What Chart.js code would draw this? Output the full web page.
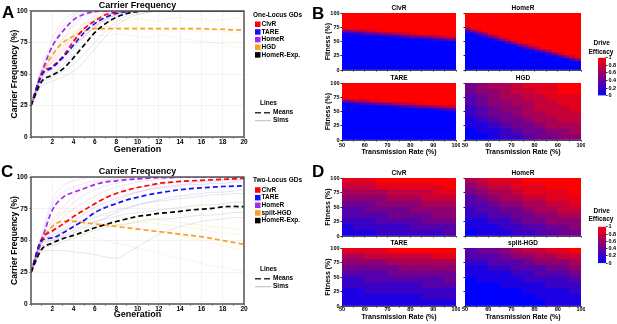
<!DOCTYPE html>
<html>
<head>
<meta charset="utf-8">
<title>Carrier frequency and drive efficacy</title>
<script src="https://cdn.jsdelivr.net/npm/chart.js@4.4.1/dist/chart.umd.min.js"></script>
<style>
  html, body { margin: 0; padding: 0; background: #fff; }
  #fig { position: relative; width: 617px; height: 324px; overflow: hidden; font-family: 'Liberation Sans', Arial, sans-serif; }
  #fig canvas { position: absolute; }
  .tag { position: absolute; font-weight: bold; color: #000; line-height: 1; white-space: nowrap; }
  .panel { font-size: 17px; }
  .cb { font-size: 6.5px; width: 40px; text-align: center; }
</style>
</head>
<body>
<div id="fig">
  <canvas id="chartA" width="310" height="160" style="left:0;top:0"></canvas>
  <canvas id="chartC" width="310" height="164" style="left:0;top:160px"></canvas>
  <canvas id="heatB1" width="140" height="75" style="left:320px;top:0"></canvas>
  <canvas id="heatB2" width="130" height="75" style="left:455px;top:0"></canvas>
  <canvas id="heatB3" width="140" height="90" style="left:320px;top:70px"></canvas>
  <canvas id="heatB4" width="130" height="90" style="left:455px;top:70px"></canvas>
  <canvas id="heatD1" width="140" height="76" style="left:320px;top:165px"></canvas>
  <canvas id="heatD2" width="130" height="76" style="left:455px;top:165px"></canvas>
  <canvas id="heatD3" width="140" height="89" style="left:320px;top:235px"></canvas>
  <canvas id="heatD4" width="130" height="89" style="left:455px;top:235px"></canvas>
  <canvas id="barB" width="27" height="50" style="left:590px;top:50px"></canvas>
  <canvas id="barD" width="27" height="50" style="left:590px;top:219px"></canvas>

  <div class="tag panel" style="left:2px;top:3.8px">A</div>
  <div class="tag panel" style="left:312px;top:4.5px">B</div>
  <div class="tag panel" style="left:1px;top:162.8px">C</div>
  <div class="tag panel" style="left:312px;top:162.8px">D</div>
  <div class="tag cb" style="left:581.7px;top:39.5px">Drive</div>
  <div class="tag cb" style="left:581px;top:48.5px">Efficacy</div>
  <div class="tag cb" style="left:581.7px;top:207.5px">Drive</div>
  <div class="tag cb" style="left:581px;top:216.1px">Efficacy</div>
</div>

<script>
// ---- line charts (A, C): carrier frequency (%) per generation ----
const generations = [0, 1, 2, 3, 4, 5, 6, 7, 8, 9, 10, 11, 12, 13, 14, 15, 16, 17, 18, 19, 20];
const gdOneLocus = ['ClvR', 'TARE', 'HomeR', 'HGD', 'HomeR-Exp.'];
const gdTwoLocus = ['ClvR', 'TARE', 'HomeR', 'split-HGD', 'HomeR-Exp.'];

const meanA_ClvR  = [25, 50, 56, 64, 76, 86, 92, 97, 99, 100, 100, 100, 100, 100, 100, 100, 100, 100, 100, 100, 100];
const meanA_TARE  = [25, 49, 55, 63, 73, 83, 90, 95, 98, 99.5, 100, 100, 100, 100, 100, 100, 100, 100, 100, 100, 100];
const meanA_HomeR = [25, 51, 72, 84, 93, 97.5, 99.5, 100, 100, 100, 100, 100, 100, 100, 100, 100, 100, 100, 100, 100, 100];
const meanA_HGD   = [25, 51, 65, 75, 80, 84, 86, 86, 86, 86, 86, 86, 86, 86, 86, 86, 86, 85.5, 85.5, 85, 85];
const meanA_Exp   = [25, 44, 49, 54, 63, 73, 83, 90, 95, 98, 99.5, 100, 100, 100, 100, 100, 100, 100, 100, 100, 100];

const simsA_ClvR = [
  [25, 52, 62, 72, 82, 90, 96, 99, 100, 100, 100, 100, 100, 100, 100, 100, 100, 100, 100, 100, 100],
  [25, 47, 53, 60, 70, 79, 88, 94, 98, 100, 100, 100, 100, 100, 100, 100, 100, 100, 100, 100, 100],
  [25, 50, 60, 70, 80, 88, 94, 98, 100, 100, 100, 100, 100, 100, 100, 100, 100, 100, 100, 100, 100]
];
const simsA_TARE = [
  [25, 48, 55, 63, 72, 80, 87, 93, 97, 99, 100, 100, 100, 100, 100, 100, 100, 100, 100, 100, 100],
  [25, 51, 59, 68, 78, 86, 93, 97, 99, 100, 100, 100, 100, 100, 100, 100, 100, 100, 100, 100, 100],
  [25, 46, 50, 57, 65, 74, 83, 90, 95, 98, 100, 100, 100, 100, 100, 100, 100, 100, 100, 100, 100]
];
const simsA_HomeR = [
  [25, 55, 78, 92, 98, 100, 100, 100, 100, 100, 100, 100, 100, 100, 100, 100, 100, 100, 100, 100, 100],
  [25, 48, 64, 78, 89, 96, 99, 100, 100, 100, 100, 100, 100, 100, 100, 100, 100, 100, 100, 100, 100],
  [25, 52, 72, 88, 96, 99, 100, 100, 100, 100, 100, 100, 100, 100, 100, 100, 100, 100, 100, 100, 100]
];
const simsA_HGD = [
  [25, 54, 72, 82, 88, 90, 92, 91, 93, 92, 94, 93, 92, 94, 95, 93, 94, 92, 93, 94, 95],
  [25, 50, 64, 73, 78, 80, 81, 80, 82, 81, 80, 79, 81, 80, 78, 77, 76, 75, 74, 72, 70],
  [25, 52, 68, 78, 84, 86, 87, 88, 86, 87, 88, 86, 85, 84, 86, 85, 84, 86, 84, 83, 82]
];
const simsA_Exp = [
  [25, 42, 47, 52, 58, 66, 75, 84, 91, 96, 98, 99, 100, 100, 100, 100, 100, 100, 100, 100, 100],
  [25, 46, 55, 63, 72, 80, 88, 93, 97, 99, 100, 100, 100, 100, 100, 100, 100, 100, 100, 100, 100],
  [25, 40, 44, 48, 52, 60, 70, 80, 88, 94, 97, 99, 100, 100, 100, 100, 100, 100, 100, 100, 100]
];

const meanC_ClvR  = [25, 51, 57.5, 63, 69, 74, 79, 83.5, 87, 89.5, 91.7, 93.3, 95, 95.8, 96.5, 97, 97.4, 97.8, 98.2, 98.5, 99];
const meanC_TARE  = [25, 50, 52, 56, 61, 66, 72, 76, 79, 82, 84, 86, 87.5, 88.8, 90, 90.8, 91.5, 92, 92.5, 92.8, 93];
const meanC_HomeR = [25, 50, 74, 84, 88, 91, 94, 96, 97, 98, 98.5, 99, 99.5, 99.5, 100, 100, 100, 100, 100, 100, 100];
const meanC_HGD   = [25, 49, 61, 65, 65, 64, 63, 62, 61, 60, 59, 58, 57, 56, 55, 54, 53, 51.5, 50, 48.5, 47];
const meanC_Exp   = [25, 43, 48, 51.5, 54, 57, 60, 62.6, 65, 67, 69, 70, 71.3, 72, 73, 74, 74.7, 75.3, 76.5, 76.8, 76.6];

const simsC_ClvR = [
  [25, 53, 65, 76, 85, 91, 95, 97, 98, 99, 100, 100, 100, 100, 100, 100, 100, 100, 100, 100, 100],
  [25, 48, 52, 57, 62, 67, 72, 77, 81, 85, 88, 90, 92, 93, 94, 95, 96, 96, 97, 97, 98],
  [25, 50, 58, 68, 75, 80, 85, 89, 92, 94, 96, 97, 98, 99, 100, 100, 100, 100, 100, 100, 100]
];
const simsC_TARE = [
  [25, 51, 56, 62, 68, 74, 79, 84, 87, 90, 92, 93, 94, 95, 96, 96, 97, 97, 98, 98, 98],
  [25, 48, 50, 53, 56, 60, 64, 68, 72, 75, 78, 80, 82, 84, 85, 86, 87, 88, 88, 89, 90],
  [25, 49, 54, 59, 65, 71, 76, 80, 83, 86, 88, 90, 91, 92, 93, 94, 94, 95, 95, 96, 96]
];
const simsC_HomeR = [
  [25, 55, 82, 93, 97, 99, 100, 100, 100, 100, 100, 100, 100, 100, 100, 100, 100, 100, 100, 100, 100],
  [25, 47, 62, 72, 80, 86, 90, 93, 95, 97, 98, 99, 100, 100, 100, 100, 100, 100, 100, 100, 100],
  [25, 52, 78, 88, 92, 95, 97, 98, 99, 100, 100, 100, 100, 100, 100, 100, 100, 100, 100, 100, 100]
];
const simsC_HGD = [
  [25, 52, 68, 72, 73, 72, 71, 70, 69, 68, 68, 67, 66, 65, 64, 63, 62, 61, 60, 59, 58],
  [25, 48, 58, 60, 58, 55, 52, 50, 48, 46, 44, 42, 40, 38, 36, 34, 32, 30, 29, 27, 26],
  [25, 50, 62, 65, 66, 65, 64, 63, 62, 61, 60, 58, 57, 56, 54, 52, 50, 48, 46, 44, 42],
  [25, 47, 55, 58, 60, 60, 61, 62, 63, 63, 64, 64, 63, 62, 61, 60, 59, 57, 56, 55, 54]
];
const simsC_Exp = [
  [25, 45, 52, 57, 61, 65, 68, 71, 74, 76, 78, 80, 81, 82, 83, 84, 85, 86, 86, 87, 87],
  [25, 41, 42, 42, 41, 40, 39, 37, 36, 40, 45, 50, 55, 58, 61, 63, 65, 66, 67, 68, 68],
  [25, 44, 50, 54, 58, 62, 65, 67, 69, 71, 72, 73, 74, 75, 76, 77, 78, 78, 79, 80, 80],
  [25, 43, 46, 49, 52, 55, 58, 60, 62, 63, 65, 66, 67, 67, 68, 69, 70, 70, 71, 72, 72]
];

// ---- heatmaps (B, D): drive efficacy, one digit per cell (0 = 0, 9 = 1)
// rows run from fitness 100 (top) down to 0, columns from transmission 50 to 100
const transRange = [50, 100];
const fitnessTicks = [0, 25, 50, 75, 100];
const efficacyRange = [0, 1];

const effB_ClvR = [
  '99999 99999 99999 99999', '99999 99999 99999 99999', '99999 99999 99999 99999',
  '99999 99999 99999 99999', '99999 99999 99999 99999', '99999 99999 99999 99999',
  '45667 88999 99999 99999', '01123 34556 77899 99999', '00000 00011 23445 56788',
  '00000 00000 00000 12234', '00000 00000 00000 00000', '00000 00000 00000 00000',
  '00000 00000 00000 00000', '00000 00000 00000 00000', '00000 00000 00000 00000',
  '00000 00000 00000 00000', '00000 00000 00000 00000', '00000 00000 00000 00000',
  '00000 00000 00000 00000', '00000 00000 00000 00000'
];
const effB_HomeR = [
  '99999 99999 99999 99999', '99999 99999 99999 99999', '99999 99999 99999 99999',
  '99999 99999 99999 99999', '99999 99999 99999 99999', '69999 99999 99999 99999',
  '25799 99999 99999 99999', '00358 99999 99999 99999', '00014 69999 99999 99999',
  '00000 25799 99999 99999', '00000 00358 99999 99999', '00000 00014 68999 99999',
  '00000 00000 24699 99999', '00000 00000 00246 99999', '00000 00000 00002 47999',
  '00000 00000 00000 02579', '00000 00000 00000 00025', '00000 00000 00000 00000',
  '00000 00000 00000 00000', '00000 00000 00000 00000'
];
const effB_TARE = [
  '99999 99999 99999 99999', '99999 99999 99999 99999', '99999 99999 99999 99999',
  '99999 99999 99999 99999', '99999 99999 99999 99999', '99999 99999 99999 99999',
  '45667 88999 99999 99999', '00122 34456 67789 99999', '00000 00001 22344 55677',
  '00000 00000 00000 01223', '00000 00000 00000 00000', '00000 00000 00000 00000',
  '00000 00000 00000 00000', '00000 00000 00000 00000', '00000 00000 00000 00000',
  '00000 00000 00000 00000', '00000 00000 00000 00000', '00000 00000 00000 00000',
  '00000 00000 00000 00000', '00000 00000 00000 00000'
];
const effB_HGD = [
  '4566788899', '4556778899', '3456677888', '3455667788', '2345567778',
  '2344566777', '1234456677', '1123445666', '0112344556', '0012234455'
];
const effD_ClvR = [
  '8889999999', '7778888889', '6666777788', '5555666777', '4445555666',
  '3344445555', '3333444455', '2223333444', '1222223333', '1112222223'
];
const effD_HomeR = [
  '6788899999', '5677888999', '4566788889', '3456677888', '3345566778',
  '2334456677', '2233445566', '1122344555', '1112233445', '0111223344'
];
const effD_TARE = [
  '8888999999', '6677777788', '5555666666', '4444455555', '3333444444',
  '2233333334', '2222222333', '1122222222', '1111111222', '1111111111'
];
const effD_splitHGD = [
  '3445677889', '3334556677', '2233345556', '1122333445', '1111223334',
  '0111122223', '0001111222', '0000011112', '0000001111', '0000000111'
];

const fontFamily = "'Liberation Sans', Arial, sans-serif";
Chart.defaults.font.family = fontFamily;
Chart.defaults.font.weight = 'bold';
Chart.defaults.color = '#000';
Chart.defaults.animation = false;
Chart.defaults.plugins.legend.display = false;
Chart.defaults.plugins.tooltip.enabled = false;

const gdRgb = ['255,0,0', '16,16,255', '154,46,240', '249,161,27', '0,0,0'];
const simRgb = ['255,40,40', '40,40,255', '160,60,240', '250,165,30', '80,80,80'];
const meanOrder = [2, 1, 3, 4, 0];

function carrierChart(id, means, sims, names, legendTitle, g) {
  var datasets = [];
  means.forEach(function (m, k) {
    datasets.push({
      label: names[k], data: m, borderColor: 'rgb(' + gdRgb[k] + ')',
      borderWidth: 1.7, borderDash: [5, 3], pointRadius: 0,
      cubicInterpolationMode: 'monotone', order: meanOrder[k]
    });
  });
  sims.forEach(function (group, k) {
    group.forEach(function (s) {
      datasets.push({
        data: s, borderColor: 'rgba(' + simRgb[k] + ',0.2)', borderWidth: 0.7,
        pointRadius: 0, cubicInterpolationMode: 'monotone', order: 10
      });
    });
  });

  var decor = {
    id: 'decor',
    afterDraw: function (chart) {
      var ctx = chart.ctx, a = chart.chartArea;
      ctx.save();
      ctx.strokeStyle = '#555';
      ctx.lineWidth = 1.5;
      ctx.strokeRect(a.left, a.top, a.right - a.left, a.bottom - a.top);

      ctx.font = 'bold 6.5px ' + fontFamily;
      ctx.textBaseline = 'middle';
      ctx.textAlign = 'left';
      ctx.fillStyle = '#000';
      ctx.fillText(legendTitle, 253, g.legendY);
      names.forEach(function (n, k) {
        var y = g.legendY + 9.3 + k * 7.65;
        ctx.fillStyle = 'rgb(' + gdRgb[k] + ')';
        ctx.fillRect(255, y - 2.75, 5.5, 5.5);
        ctx.fillStyle = '#000';
        ctx.fillText(n, 261.5, y);
      });
      ctx.fillText('Lines', 260, g.linesY);
      ctx.fillText('Means', 273, g.linesY + 9.7);
      ctx.fillText('Sims', 273, g.linesY + 17.7);
      ctx.strokeStyle = '#333';
      ctx.lineWidth = 1.5;
      ctx.setLineDash([6, 3]);
      ctx.beginPath(); ctx.moveTo(255, g.linesY + 9.7); ctx.lineTo(271, g.linesY + 9.7); ctx.stroke();
      ctx.setLineDash([]);
      ctx.strokeStyle = '#aaa';
      ctx.lineWidth = 0.8;
      ctx.beginPath(); ctx.moveTo(255, g.linesY + 17.7); ctx.lineTo(271, g.linesY + 17.7); ctx.stroke();
      ctx.restore();
    }
  };

  return new Chart(document.getElementById(id), {
    type: 'line',
    data: { labels: generations, datasets: datasets },
    options: {
      responsive: false, devicePixelRatio: 1,
      layout: { padding: { left: 0, right: 66, top: 0, bottom: 0 } },
      plugins: {
        title: {
          display: true, text: 'Carrier Frequency', fullSize: false, color: '#000',
          font: { size: 9, weight: 'bold', lineHeight: 1.2 },
          padding: { top: g.titleTop, bottom: g.titleBottom }
        }
      },
      scales: {
        x: {
          type: 'linear', min: 0, max: 20,
          ticks: {
            stepSize: 1, autoSkip: false, maxRotation: 0, padding: 0,
            font: { size: 6.5, weight: 'bold', lineHeight: 1 },
            callback: function (v) { return v > 0 && v % 2 === 0 ? v : ''; }
          },
          grid: {
            color: function (c) { return c.tick && c.tick.value % 2 === 0 ? '#ebebeb' : 'rgba(0,0,0,0)'; },
            lineWidth: 0.6, tickLength: 2, tickColor: '#555'
          },
          border: { display: false },
          title: {
            display: true, text: 'Generation', color: '#000',
            font: { size: 9, weight: 'bold', lineHeight: 1.2 },
            padding: { top: 0, bottom: g.xTitleBottom }
          },
          afterFit: function (s) { s.height = g.xHeight; s.paddingLeft = 0; s.paddingRight = 0; }
        },
        y: {
          min: 0, max: 100,
          ticks: { stepSize: 25, padding: 1.5, font: { size: 6.5, weight: 'bold' } },
          grid: { color: '#ebebeb', lineWidth: 0.6, tickLength: 2, tickColor: '#555' },
          border: { display: false },
          title: {
            display: true, text: 'Carrier Frequency (%)', color: '#000',
            font: { size: 8.5, weight: 'bold', lineHeight: 1.2 },
            padding: { top: 9.9, bottom: 0 }
          },
          afterFit: function (s) { s.width = 31; s.paddingTop = 0; s.paddingBottom = 0; }
        }
      }
    },
    plugins: [decor]
  });
}

function effColor(d) {
  var e = d / 9;
  return 'rgb(' + Math.round(255 * e) + ',0,' + Math.round(255 * (1 - e)) + ')';
}

function heatmap(id, rows, title, leftCol, bottomRow, g) {
  var grid = rows.map(function (r) { return r.replace(/\s/g, ''); });
  var nr = grid.length, nc = grid[0].length;
  var cw = (transRange[1] - transRange[0]) / nc, rh = 100 / nr;
  var cells = [], colors = [];
  grid.forEach(function (row, r) {
    for (var i = 0; i < nc; i++) {
      cells.push({ x: transRange[0] + (i + 0.5) * cw, y: [100 - (r + 1) * rh, 100 - r * rh] });
      colors.push(effColor(+row[i]));
    }
  });

  return new Chart(document.getElementById(id), {
    type: 'bar',
    data: {
      datasets: [{
        data: cells, backgroundColor: colors, borderWidth: 0,
        barPercentage: 1, categoryPercentage: 1, inflateAmount: 0.4
      }]
    },
    options: {
      responsive: false, devicePixelRatio: 1,
      layout: { padding: { left: 0, right: 4, top: 0, bottom: 0 } },
      plugins: {
        title: {
          display: true, text: title, fullSize: false, color: '#000',
          font: { size: 6.5, weight: 'bold', lineHeight: 1.2 },
          padding: { top: 4.6, bottom: 0.6 }
        }
      },
      scales: {
        x: {
          type: 'linear', min: transRange[0], max: transRange[1], offset: false,
          ticks: {
            stepSize: 5, autoSkip: false, maxRotation: 0, padding: g.tickPad,
            font: { size: 5.5, weight: 'bold', lineHeight: 1 },
            callback: function (v) { return bottomRow && v % 10 === 0 ? v : ''; }
          },
          grid: { drawOnChartArea: false, offset: false, tickLength: 1.5, tickColor: '#222' },
          border: { display: true, color: '#222', width: 0.8 },
          title: {
            display: bottomRow, text: 'Transmission Rate (%)', color: '#000',
            font: { size: 7, weight: 'bold', lineHeight: 1.2 },
            padding: { top: 0, bottom: g.xTitleBottom }
          },
          afterFit: function (s) { s.height = g.xHeight; s.paddingLeft = 0; s.paddingRight = 0; }
        },
        y: {
          min: fitnessTicks[0], max: fitnessTicks[fitnessTicks.length - 1],
          ticks: {
            stepSize: 25, padding: 1, autoSkip: false, font: { size: 5.5, weight: 'bold' },
            callback: function (v) { return leftCol ? v : ''; }
          },
          grid: { drawOnChartArea: false, tickLength: 1.5, tickColor: '#222' },
          border: { display: true, color: '#222', width: 0.8 },
          title: {
            display: leftCol, text: 'Fitness (%)', color: '#000',
            font: { size: 7, weight: 'bold', lineHeight: 1.2 },
            padding: { top: 4.3, bottom: 0 }
          },
          afterFit: function (s) { s.width = leftCol ? 22 : 10; s.paddingTop = 0; s.paddingBottom = 0; }
        }
      }
    }
  });
}

function colorbar(id, padTop, padBottom) {
  return new Chart(document.getElementById(id), {
    type: 'bar',
    data: {
      labels: [''],
      datasets: [{
        data: [efficacyRange], borderWidth: 0, barPercentage: 1, categoryPercentage: 1,
        backgroundColor: function (c) {
          var a = c.chart.chartArea;
          if (!a) return 'rgb(128,0,128)';
          var grad = c.chart.ctx.createLinearGradient(0, a.bottom, 0, a.top);
          grad.addColorStop(0, 'rgb(0,0,255)');
          grad.addColorStop(1, 'rgb(255,0,0)');
          return grad;
        }
      }]
    },
    options: {
      responsive: false, devicePixelRatio: 1,
      layout: { padding: { left: 8, right: 0, top: padTop, bottom: padBottom } },
      scales: {
        x: { display: false },
        y: {
          position: 'right', min: efficacyRange[0], max: efficacyRange[1],
          ticks: {
            stepSize: 0.2, padding: 1, autoSkip: false, font: { size: 5.5, weight: 'bold' },
            callback: function (v) { return String(Math.round(v * 10) / 10); }
          },
          grid: { drawOnChartArea: false, tickLength: 1.5, tickColor: '#222' },
          border: { display: false },
          afterFit: function (s) { s.width = 11; s.paddingTop = 0; s.paddingBottom = 0; }
        }
      }
    }
  });
}

carrierChart('chartA',
  [meanA_ClvR, meanA_TARE, meanA_HomeR, meanA_HGD, meanA_Exp],
  [simsA_ClvR, simsA_TARE, simsA_HomeR, simsA_HGD, simsA_Exp],
  gdOneLocus, 'One-Locus GDs',
  { titleTop: 0, titleBottom: 0.2, xHeight: 23, xTitleBottom: 5.3, legendY: 15, linesY: 103 });

carrierChart('chartC',
  [meanC_ClvR, meanC_TARE, meanC_HomeR, meanC_HGD, meanC_Exp],
  [simsC_ClvR, simsC_TARE, simsC_HomeR, simsC_HGD, simsC_Exp],
  gdTwoLocus, 'Two-Locus GDs',
  { titleTop: 6.2, titleBottom: 0, xHeight: 20, xTitleBottom: 3.6, legendY: 20.7, linesY: 109 });

var topRow = { xHeight: 5, tickPad: 0, xTitleBottom: 0 };
heatmap('heatB1', effB_ClvR, 'ClvR', true, false, topRow);
heatmap('heatB2', effB_HomeR, 'HomeR', false, false, topRow);
heatmap('heatB3', effB_TARE, 'TARE', true, true, { xHeight: 20, tickPad: 0.75, xTitleBottom: 4.1 });
heatmap('heatB4', effB_HGD, 'HGD', false, true, { xHeight: 20, tickPad: 0.75, xTitleBottom: 4.1 });
heatmap('heatD1', effD_ClvR, 'ClvR', true, false, topRow);
heatmap('heatD2', effD_HomeR, 'HomeR', false, false, topRow);
heatmap('heatD3', effD_TARE, 'TARE', true, true, { xHeight: 18, tickPad: -1, xTitleBottom: 2.8 });
heatmap('heatD4', effD_splitHGD, 'split-HGD', false, true, { xHeight: 18, tickPad: -1, xTitleBottom: 2.8 });

colorbar('barB', 7.7, 4.3);
colorbar('barD', 7.7, 5.7);
</script>
</body>
</html>
